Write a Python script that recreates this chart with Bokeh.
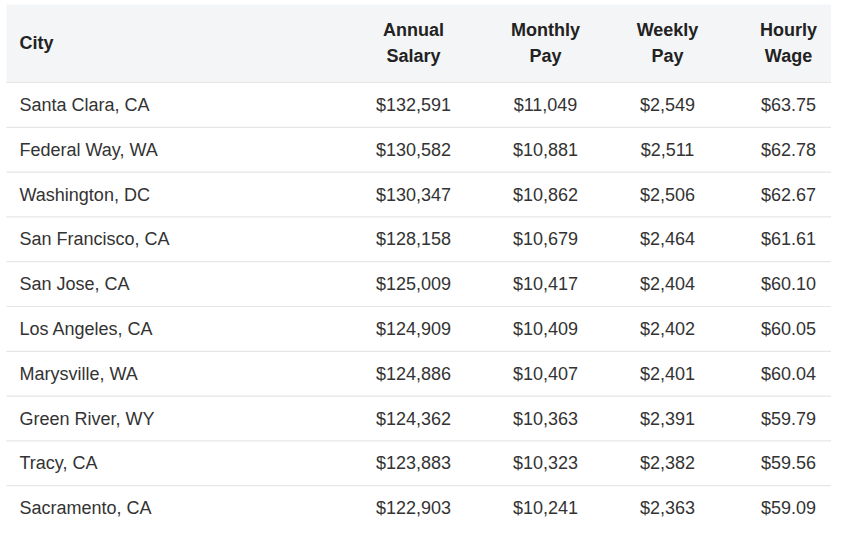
from bokeh.plotting import figure
from bokeh.models import Range1d
from bokeh.core.properties import value
from bokeh.embed import file_html
from bokeh.resources import INLINE

cities = ["Santa Clara, CA", "Federal Way, WA", "Washington, DC", "San Francisco, CA",
          "San Jose, CA", "Los Angeles, CA", "Marysville, WA", "Green River, WY",
          "Tracy, CA", "Sacramento, CA"]
annual = [132591, 130582, 130347, 128158, 125009, 124909, 124886, 124362, 123883, 122903]
monthly = [11049, 10881, 10862, 10679, 10417, 10409, 10407, 10363, 10323, 10241]
weekly = [2549, 2511, 2506, 2464, 2404, 2402, 2401, 2391, 2382, 2363]
hourly = [63.75, 62.78, 62.67, 61.61, 60.10, 60.05, 60.04, 59.79, 59.56, 59.09]
headers = [["City"], ["Annual", "Salary"], ["Monthly", "Pay"], ["Weekly", "Pay"], ["Hourly", "Wage"]]

W, H = 831, 520
p = figure(width=W, height=H, output_backend="svg", toolbar_location=None,
           x_range=Range1d(0, W), y_range=Range1d(H, 0), min_border=0)
p.axis.visible = False
p.grid.visible = False
p.outline_line_color = None
p.background_fill_color = "white"
p.border_fill_color = "white"

FONT = value("Liberation Sans")
TXT = "#333333"
HDR = "#222222"
head_top, head_bot = 4, 82
row_h = 44.8
left, right = 6, 847
col_x = [19, 413, 545, 667, 788]

# header band
p.quad(left=[left], right=[right], top=[head_top], bottom=[head_bot],
       fill_color="#f4f5f7", line_color=None)

# separators
n = len(cities)
seps = [head_bot + row_h * i for i in range(n)]
p.segment(x0=[left] * n, x1=[right] * n, y0=seps, y1=seps, line_color="#e6e6e6", line_width=1.2)

# header text
hx, hy, ht, ha = [], [], [], []
for j, lines in enumerate(headers):
    ys = [42.5] if len(lines) == 1 else [29.5, 55.5]
    for t, y in zip(lines, ys):
        hx.append(col_x[j]); hy.append(y); ht.append(t)
        ha.append("left" if j == 0 else "center")
p.text(x=hx, y=hy, text=ht, text_align=ha, text_baseline="middle",
       text_font=FONT, text_font_style="bold", text_font_size="18px", text_color=HDR)

# body text
bx, by, bt, ba = [], [], [], []
for i in range(n):
    yc = head_bot + row_h * (i + 0.5)
    vals = [cities[i], f"${annual[i]:,}", f"${monthly[i]:,}", f"${weekly[i]:,}", f"${hourly[i]:.2f}"]
    for j, v in enumerate(vals):
        bx.append(col_x[j]); by.append(yc); bt.append(v)
        ba.append("left" if j == 0 else "center")
p.text(x=bx, y=by, text=bt, text_align=ba, text_baseline="middle",
       text_font=FONT, text_font_size="18px", text_color=TXT)

open("out.html", "w").write(file_html(p, INLINE))
